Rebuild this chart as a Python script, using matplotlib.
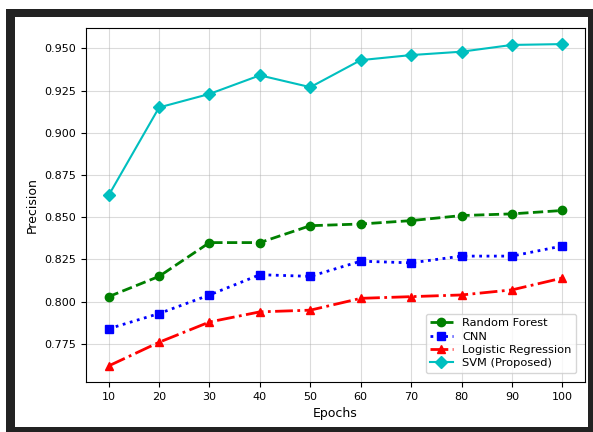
import numpy as np
import matplotlib
matplotlib.use('Agg')
import matplotlib.pyplot as plt
from matplotlib.patches import Rectangle

# values
epochs = [10, 20, 30, 40, 50, 60, 70, 80, 90, 100]
rf = [0.803, 0.815, 0.835, 0.835, 0.845, 0.846, 0.848, 0.851, 0.852, 0.854]
cnn = [0.784, 0.793, 0.804, 0.816, 0.815, 0.824, 0.823, 0.827, 0.827, 0.833]
logreg = [0.762, 0.776, 0.788, 0.794, 0.795, 0.802, 0.803, 0.804, 0.807, 0.814]
svm = [0.863, 0.915, 0.923, 0.934, 0.927, 0.943, 0.946, 0.948, 0.952, 0.9525]

fig = plt.figure(figsize=(5.93, 4.32), dpi=100)
# dark frame round the picture
fig.patches.append(Rectangle((6/593, 0), 1-6/593, (432-9)/432, transform=fig.transFigure,
                             facecolor='#222222', edgecolor='none', zorder=-10))
fig.patches.append(Rectangle((15/593, 1-427/432), 573/593, 410/432, transform=fig.transFigure,
                             facecolor='white', edgecolor='none', zorder=-9))

ax = fig.add_axes([86/593, 1-382/432, (585-86)/593, (382-28)/432])
ax.plot(epochs, rf, color='green', marker='o', linestyle='--', linewidth=2, markersize=6, label='Random Forest')
ax.plot(epochs, cnn, color='blue', marker='s', linestyle=':', linewidth=2, markersize=6, label='CNN')
ax.plot(epochs, logreg, color='red', marker='^', linestyle='-.', linewidth=2, markersize=6, label='Logistic Regression')
ax.plot(epochs, svm, color='c', marker='D', linestyle='-', linewidth=1.5, markersize=6, label='SVM (Proposed)')

ax.set_xticks(epochs)
ax.set_xlabel('Epochs', fontsize=9)
ax.set_ylabel('Precision', fontsize=9)
ax.tick_params(labelsize=8)
ax.grid(True, alpha=0.45)
ax.legend(loc='lower right', fontsize=8.2, borderaxespad=0.8, labelspacing=0.3)

plt.savefig('out.png', dpi=100)
